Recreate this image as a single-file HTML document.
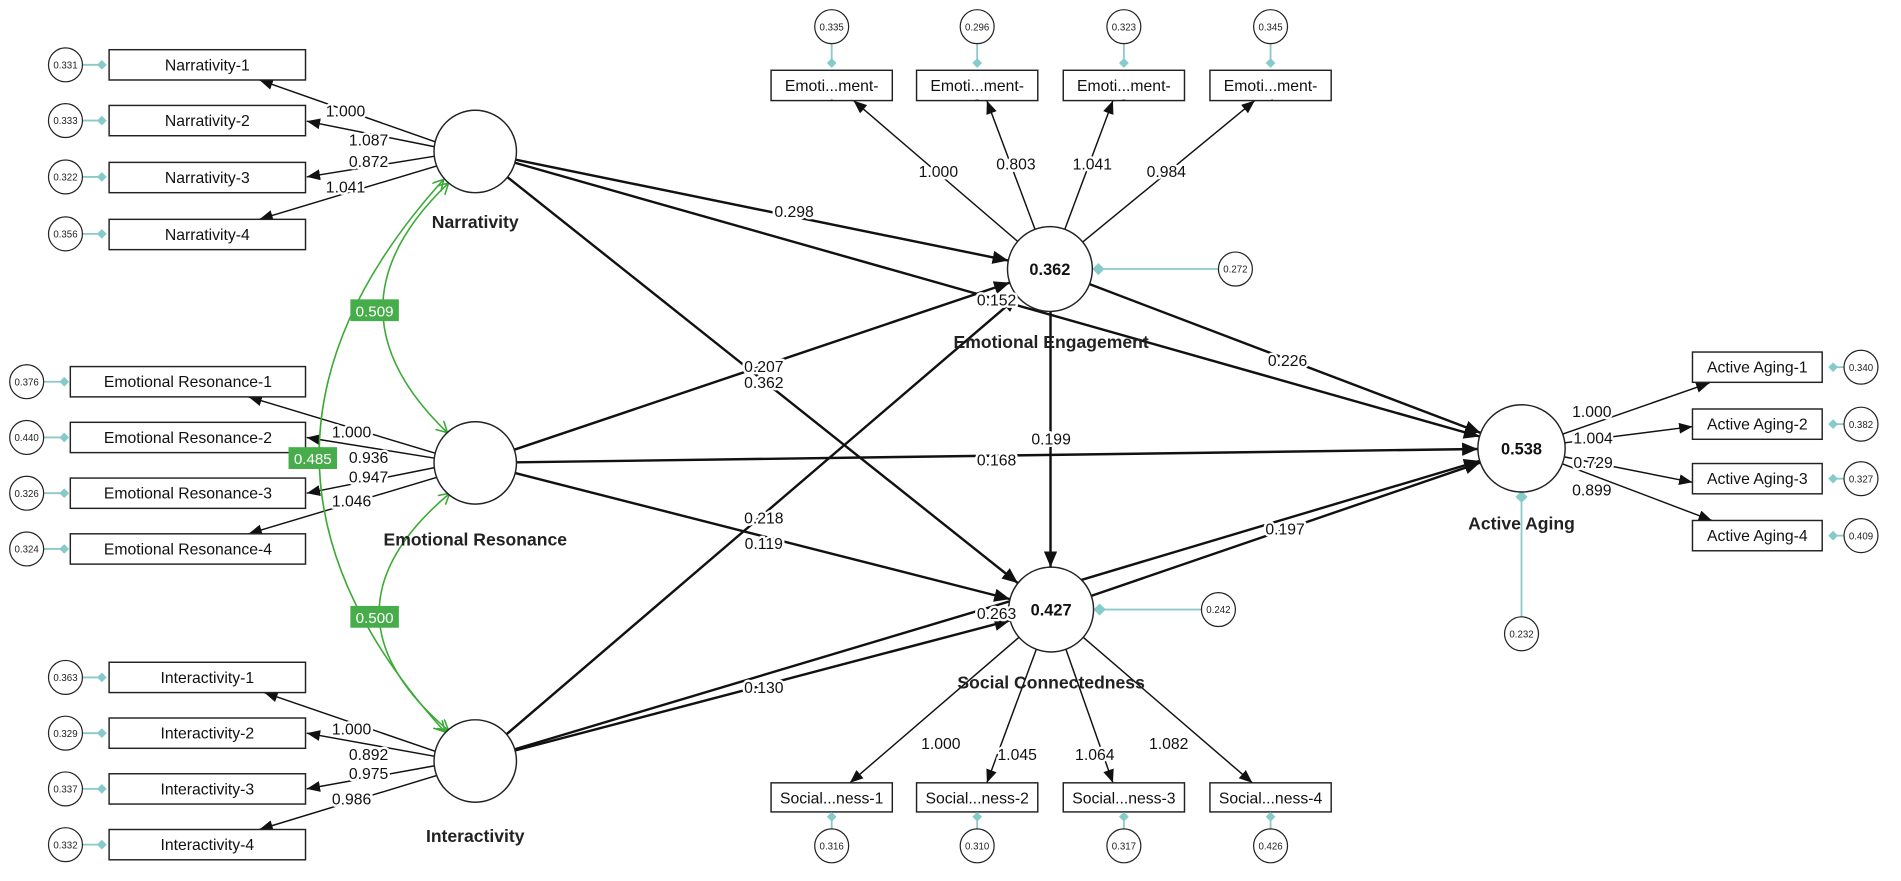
<!DOCTYPE html>
<html><head><meta charset="utf-8"><style>
html,body{margin:0;padding:0;background:#fff;}
svg{display:block;}
text{font-family:"Liberation Sans",sans-serif;}
.b{fill:#fff;stroke:#222;stroke-width:1.2;}
.bt{font-size:13px;text-anchor:middle;fill:#111;}
.lt{font-size:14.5px;font-weight:bold;text-anchor:middle;fill:#222;}
.n{font-size:13px;text-anchor:middle;fill:#111;stroke:#fff;stroke-width:4px;paint-order:stroke;stroke-linejoin:round;}
.e{fill:#fff;stroke:#222;stroke-width:1;}
.et{font-size:8px;text-anchor:middle;fill:#222;}
.t{stroke:#8cc9c9;stroke-width:1.5;fill:none;}
.d{fill:#86caca;}
.th{stroke:#111;stroke-width:2;fill:none;marker-end:url(#ah);}
.tn{stroke:#111;stroke-width:1.2;fill:none;marker-end:url(#as);}
.g{stroke:#3aaa35;stroke-width:1.3;fill:none;marker-start:url(#ga);marker-end:url(#ga);}
.gb{fill:#47ad4a;}
.gt{font-size:12.5px;text-anchor:middle;fill:#fff;}
.c{fill:#fff;stroke:#222;stroke-width:1.2;}
.ct{font-size:13.5px;font-weight:bold;text-anchor:middle;fill:#111;}
</style></head><body>
<svg width="1901" height="881" viewBox="0 0 1568 727" preserveAspectRatio="none" xmlns="http://www.w3.org/2000/svg">
<defs>
<marker id="ah" markerUnits="userSpaceOnUse" markerWidth="14" markerHeight="12" refX="13" refY="5.5" orient="auto"><path d="M0,0 L13,5.5 L0,11 z" fill="#111"/></marker>
<marker id="as" markerUnits="userSpaceOnUse" markerWidth="12" markerHeight="10" refX="11" refY="4.5" orient="auto"><path d="M0,0 L11,4.5 L0,9 z" fill="#111"/></marker>
<marker id="ga" markerUnits="userSpaceOnUse" markerWidth="12" markerHeight="12" refX="9" refY="5" orient="auto-start-reverse"><path d="M0,0 L9,5 L0,10" fill="none" stroke="#3aaa35" stroke-width="1.3"/></marker>
<clipPath id="c1"><rect x="636" y="58" width="100" height="25"/></clipPath>
<clipPath id="c2"><rect x="756" y="58" width="100" height="25"/></clipPath>
<clipPath id="c3"><rect x="877" y="58" width="100" height="25"/></clipPath>
<clipPath id="c4"><rect x="998" y="58" width="100" height="25"/></clipPath>
</defs>

<!-- structural paths -->
<line class="th" x1="425.3" y1="131.8" x2="831.7" y2="215"/>
<line class="th" x1="424.7" y1="134.3" x2="1220.4" y2="360.2"/>
<line class="th" x1="418.6" y1="146.2" x2="839.6" y2="481.2"/>
<line class="th" x1="424.2" y1="371.1" x2="832.9" y2="233.2"/>
<line class="th" x1="426" y1="381.5" x2="1219" y2="370.5"/>
<line class="th" x1="425" y1="390.4" x2="833.1" y2="494.4"/>
<line class="th" x1="417.8" y1="605.9" x2="839.4" y2="244.8"/>
<line class="th" x1="424.9" y1="619.3" x2="833.2" y2="511.9"/>
<line class="th" x1="424.6" y1="618.3" x2="1220.5" y2="380.3"/>
<line class="th" x1="898.7" y1="234.5" x2="1221.3" y2="357.2"/>
<line class="th" x1="866.5" y1="257" x2="866.5" y2="468"/>
<line class="th" x1="900.1" y1="491.7" x2="1221" y2="381.7"/>

<!-- loadings -->
<line class="tn" x1="359" y1="117" x2="214" y2="66"/>
<line class="tn" x1="358" y1="121" x2="253" y2="100"/>
<line class="tn" x1="358" y1="129" x2="253" y2="146"/>
<line class="tn" x1="360" y1="137" x2="214" y2="181"/>
<line class="tn" x1="359" y1="374" x2="205" y2="327.5"/>
<line class="tn" x1="358" y1="378" x2="253" y2="361"/>
<line class="tn" x1="358" y1="386" x2="253" y2="407"/>
<line class="tn" x1="360" y1="394" x2="205" y2="440.5"/>
<line class="tn" x1="359" y1="620" x2="218" y2="571.5"/>
<line class="tn" x1="358" y1="624" x2="253" y2="605"/>
<line class="tn" x1="358" y1="632" x2="253" y2="651"/>
<line class="tn" x1="360" y1="640" x2="214" y2="684.5"/>
<line class="tn" x1="839.4" y1="199.2" x2="704" y2="83"/>
<line class="tn" x1="853.7" y1="189.2" x2="814" y2="83"/>
<line class="tn" x1="878.3" y1="189.2" x2="918" y2="83"/>
<line class="tn" x1="893" y1="199.8" x2="1035" y2="83"/>
<line class="tn" x1="840.5" y1="525.9" x2="701" y2="646"/>
<line class="tn" x1="854.8" y1="535.8" x2="814" y2="646"/>
<line class="tn" x1="879.2" y1="535.8" x2="918" y2="646"/>
<line class="tn" x1="893.5" y1="525.9" x2="1033" y2="646"/>
<line class="tn" x1="1289" y1="358.2" x2="1410" y2="316"/>
<line class="tn" x1="1290.7" y1="365.4" x2="1396" y2="352"/>
<line class="tn" x1="1290.3" y1="377" x2="1396" y2="398"/>
<line class="tn" x1="1288.7" y1="382.7" x2="1412" y2="429.5"/>

<!-- green covariances -->
<path class="g" d="M370,151 Q262,254 369,357"/>
<path class="g" d="M366,148 Q160,376 367,604"/>
<path class="g" d="M371,407 Q255,505 370,603"/>

<!-- left indicator boxes & error terms -->
<g>
<line class="t" x1="68" y1="53.5" x2="86" y2="53.5"/><circle class="e" cx="54" cy="53.5" r="14"/><text class="et" x="54" y="56.5">0.331</text><path class="d" d="M84,49.5 L88,53.5 L84,57.5 L80,53.5z"/>
<rect class="b" x="90" y="41" width="162" height="25"/><text class="bt" x="171" y="58">Narrativity-1</text>
<line class="t" x1="68" y1="99.5" x2="86" y2="99.5"/><circle class="e" cx="54" cy="99.5" r="14"/><text class="et" x="54" y="102.5">0.333</text><path class="d" d="M84,95.5 L88,99.5 L84,103.5 L80,99.5z"/>
<rect class="b" x="90" y="87" width="162" height="25"/><text class="bt" x="171" y="104">Narrativity-2</text>
<line class="t" x1="68" y1="146" x2="86" y2="146"/><circle class="e" cx="54" cy="146" r="14"/><text class="et" x="54" y="149">0.322</text><path class="d" d="M84,142 L88,146 L84,150 L80,146z"/>
<rect class="b" x="90" y="134" width="162" height="25"/><text class="bt" x="171" y="151">Narrativity-3</text>
<line class="t" x1="68" y1="193" x2="86" y2="193"/><circle class="e" cx="54" cy="193" r="14"/><text class="et" x="54" y="196">0.356</text><path class="d" d="M84,189 L88,193 L84,197 L80,193z"/>
<rect class="b" x="90" y="181" width="162" height="25"/><text class="bt" x="171" y="198">Narrativity-4</text>

<line class="t" x1="36" y1="315" x2="54" y2="315"/><circle class="e" cx="22" cy="315" r="14"/><text class="et" x="22" y="318">0.376</text><path class="d" d="M53,311 L57,315 L53,319 L49,315z"/>
<rect class="b" x="58" y="302.5" width="194" height="25"/><text class="bt" x="155" y="319.5">Emotional Resonance-1</text>
<line class="t" x1="36" y1="361" x2="54" y2="361"/><circle class="e" cx="22" cy="361" r="14"/><text class="et" x="22" y="364">0.440</text><path class="d" d="M53,357 L57,361 L53,365 L49,361z"/>
<rect class="b" x="58" y="348.5" width="194" height="25"/><text class="bt" x="155" y="365.5">Emotional Resonance-2</text>
<line class="t" x1="36" y1="407" x2="54" y2="407"/><circle class="e" cx="22" cy="407" r="14"/><text class="et" x="22" y="410">0.326</text><path class="d" d="M53,403 L57,407 L53,411 L49,407z"/>
<rect class="b" x="58" y="394.5" width="194" height="25"/><text class="bt" x="155" y="411.5">Emotional Resonance-3</text>
<line class="t" x1="36" y1="453" x2="54" y2="453"/><circle class="e" cx="22" cy="453" r="14"/><text class="et" x="22" y="456">0.324</text><path class="d" d="M53,449 L57,453 L53,457 L49,453z"/>
<rect class="b" x="58" y="440.5" width="194" height="25"/><text class="bt" x="155" y="457.5">Emotional Resonance-4</text>

<line class="t" x1="68" y1="559" x2="86" y2="559"/><circle class="e" cx="54" cy="559" r="14"/><text class="et" x="54" y="562">0.363</text><path class="d" d="M84,555 L88,559 L84,563 L80,559z"/>
<rect class="b" x="90" y="546.5" width="162" height="25"/><text class="bt" x="171" y="563.5">Interactivity-1</text>
<line class="t" x1="68" y1="605" x2="86" y2="605"/><circle class="e" cx="54" cy="605" r="14"/><text class="et" x="54" y="608">0.329</text><path class="d" d="M84,601 L88,605 L84,609 L80,605z"/>
<rect class="b" x="90" y="592.5" width="162" height="25"/><text class="bt" x="171" y="609.5">Interactivity-2</text>
<line class="t" x1="68" y1="651" x2="86" y2="651"/><circle class="e" cx="54" cy="651" r="14"/><text class="et" x="54" y="654">0.337</text><path class="d" d="M84,647 L88,651 L84,655 L80,651z"/>
<rect class="b" x="90" y="638.5" width="162" height="25"/><text class="bt" x="171" y="655.5">Interactivity-3</text>
<line class="t" x1="68" y1="697" x2="86" y2="697"/><circle class="e" cx="54" cy="697" r="14"/><text class="et" x="54" y="700">0.332</text><path class="d" d="M84,693 L88,697 L84,701 L80,697z"/>
<rect class="b" x="90" y="684.5" width="162" height="25"/><text class="bt" x="171" y="701.5">Interactivity-4</text>
</g>

<!-- EE indicators -->
<g>
<line class="t" x1="686" y1="36" x2="686" y2="53"/><circle class="e" cx="686" cy="22" r="14"/><text class="et" x="686" y="25">0.335</text><path class="d" d="M686,48 L690,52 L686,56 L682,52z"/>
<rect class="b" x="636" y="58" width="100" height="25"/><text class="bt" x="686" y="75">Emoti...ment-</text><text class="bt" x="686" y="91" clip-path="url(#c1)">1</text>
<line class="t" x1="806" y1="36" x2="806" y2="53"/><circle class="e" cx="806" cy="22" r="14"/><text class="et" x="806" y="25">0.296</text><path class="d" d="M806,48 L810,52 L806,56 L802,52z"/>
<rect class="b" x="756" y="58" width="100" height="25"/><text class="bt" x="806" y="75">Emoti...ment-</text><text class="bt" x="806" y="91" clip-path="url(#c2)">2</text>
<line class="t" x1="927" y1="36" x2="927" y2="53"/><circle class="e" cx="927" cy="22" r="14"/><text class="et" x="927" y="25">0.323</text><path class="d" d="M927,48 L931,52 L927,56 L923,52z"/>
<rect class="b" x="877" y="58" width="100" height="25"/><text class="bt" x="927" y="75">Emoti...ment-</text><text class="bt" x="927" y="91" clip-path="url(#c3)">3</text>
<line class="t" x1="1048" y1="36" x2="1048" y2="53"/><circle class="e" cx="1048" cy="22" r="14"/><text class="et" x="1048" y="25">0.345</text><path class="d" d="M1048,48 L1052,52 L1048,56 L1044,52z"/>
<rect class="b" x="998" y="58" width="100" height="25"/><text class="bt" x="1048" y="75">Emoti...ment-</text><text class="bt" x="1048" y="91" clip-path="url(#c4)">4</text>
</g>

<!-- SC indicators -->
<g>
<rect class="b" x="636" y="646" width="100" height="24"/><text class="bt" x="686" y="663">Social...ness-1</text>
<line class="t" x1="686" y1="674" x2="686" y2="684"/><path class="d" d="M686,670 L690,674 L686,678 L682,674z"/><circle class="e" cx="686" cy="698" r="14"/><text class="et" x="686" y="701">0.316</text>
<rect class="b" x="756" y="646" width="100" height="24"/><text class="bt" x="806" y="663">Social...ness-2</text>
<line class="t" x1="806" y1="674" x2="806" y2="684"/><path class="d" d="M806,670 L810,674 L806,678 L802,674z"/><circle class="e" cx="806" cy="698" r="14"/><text class="et" x="806" y="701">0.310</text>
<rect class="b" x="877" y="646" width="100" height="24"/><text class="bt" x="927" y="663">Social...ness-3</text>
<line class="t" x1="927" y1="674" x2="927" y2="684"/><path class="d" d="M927,670 L931,674 L927,678 L923,674z"/><circle class="e" cx="927" cy="698" r="14"/><text class="et" x="927" y="701">0.317</text>
<rect class="b" x="998" y="646" width="100" height="24"/><text class="bt" x="1048" y="663">Social...ness-4</text>
<line class="t" x1="1048" y1="674" x2="1048" y2="684"/><path class="d" d="M1048,670 L1052,674 L1048,678 L1044,674z"/><circle class="e" cx="1048" cy="698" r="14"/><text class="et" x="1048" y="701">0.426</text>
</g>

<!-- AA indicators -->
<g>
<rect class="b" x="1396" y="290.5" width="107" height="25"/><text class="bt" x="1449.5" y="307.5">Active Aging-1</text>
<line class="t" x1="1514" y1="303" x2="1521" y2="303"/><path class="d" d="M1512,299 L1516,303 L1512,307 L1508,303z"/><circle class="e" cx="1535" cy="303" r="14"/><text class="et" x="1535" y="306">0.340</text>
<rect class="b" x="1396" y="337.5" width="107" height="25"/><text class="bt" x="1449.5" y="354.5">Active Aging-2</text>
<line class="t" x1="1514" y1="350" x2="1521" y2="350"/><path class="d" d="M1512,346 L1516,350 L1512,354 L1508,350z"/><circle class="e" cx="1535" cy="350" r="14"/><text class="et" x="1535" y="353">0.382</text>
<rect class="b" x="1396" y="382.5" width="107" height="25"/><text class="bt" x="1449.5" y="399.5">Active Aging-3</text>
<line class="t" x1="1514" y1="395" x2="1521" y2="395"/><path class="d" d="M1512,391 L1516,395 L1512,399 L1508,395z"/><circle class="e" cx="1535" cy="395" r="14"/><text class="et" x="1535" y="398">0.327</text>
<rect class="b" x="1396" y="429.5" width="107" height="25"/><text class="bt" x="1449.5" y="446.5">Active Aging-4</text>
<line class="t" x1="1514" y1="442" x2="1521" y2="442"/><path class="d" d="M1512,438 L1516,442 L1512,446 L1508,442z"/><circle class="e" cx="1535" cy="442" r="14"/><text class="et" x="1535" y="445">0.409</text>
</g>

<!-- structural error terms -->
<line class="t" x1="905" y1="222" x2="1005" y2="222"/><path class="d" d="M901,222 L906,217 L911,222 L906,227z"/><circle class="e" cx="1019" cy="222" r="14"/><text class="et" x="1019" y="225">0.272</text>
<line class="t" x1="906" y1="503" x2="991" y2="503"/><path class="d" d="M902,503 L907,498 L912,503 L907,508z"/><circle class="e" cx="1005" cy="503" r="14"/><text class="et" x="1005" y="506">0.242</text>
<line class="t" x1="1255" y1="410" x2="1255" y2="509"/><path class="d" d="M1255,405 L1260,410 L1255,415 L1250,410z"/><circle class="e" cx="1255" cy="523" r="14"/><text class="et" x="1255" y="526">0.232</text>

<!-- latent circles -->
<circle class="c" cx="392" cy="125" r="34"/>
<circle class="c" cx="392" cy="382" r="34"/>
<circle class="c" cx="392" cy="628" r="34"/>
<circle class="c" cx="866" cy="222" r="35"/><text class="ct" x="866" y="227">0.362</text>
<circle class="c" cx="867" cy="503" r="35"/><text class="ct" x="867" y="508">0.427</text>
<circle class="c" cx="1255" cy="370" r="36"/><text class="ct" x="1255" y="375">0.538</text>

<text class="lt" x="392" y="188">Narrativity</text>
<text class="lt" x="392" y="450">Emotional Resonance</text>
<text class="lt" x="392" y="695">Interactivity</text>
<text class="lt" x="867" y="287">Emotional Engagement</text>
<text class="lt" x="867" y="568">Social Connectedness</text>
<text class="lt" x="1255" y="437">Active Aging</text>

<!-- path labels -->
<text class="n" x="285" y="96">1.000</text>
<text class="n" x="304" y="120">1.087</text>
<text class="n" x="304" y="138">0.872</text>
<text class="n" x="285" y="159">1.041</text>
<text class="n" x="290" y="361">1.000</text>
<text class="n" x="304" y="382">0.936</text>
<text class="n" x="304" y="398">0.947</text>
<text class="n" x="290" y="418">1.046</text>
<text class="n" x="290" y="606">1.000</text>
<text class="n" x="304" y="627">0.892</text>
<text class="n" x="304" y="643">0.975</text>
<text class="n" x="290" y="664">0.986</text>

<text class="n" x="774" y="146">1.000</text>
<text class="n" x="838" y="140">0.803</text>
<text class="n" x="901" y="140">1.041</text>
<text class="n" x="962" y="146">0.984</text>

<text class="n" x="776" y="618">1.000</text>
<text class="n" x="839" y="627">1.045</text>
<text class="n" x="903" y="627">1.064</text>
<text class="n" x="964" y="618">1.082</text>

<text class="n" x="1313" y="344">1.000</text>
<text class="n" x="1314" y="366">1.004</text>
<text class="n" x="1314" y="386">0.729</text>
<text class="n" x="1313" y="409">0.899</text>

<text class="n" x="655" y="179">0.298</text>
<text class="n" x="822" y="252">0.152</text>
<text class="n" x="630" y="307">0.207</text>
<text class="n" x="630" y="320">0.362</text>
<text class="n" x="822" y="384">0.168</text>
<text class="n" x="630" y="453">0.119</text>
<text class="n" x="630" y="432">0.218</text>
<text class="n" x="630" y="572">0.130</text>
<text class="n" x="822" y="511">0.263</text>
<text class="n" x="1062" y="302">0.226</text>
<text class="n" x="867" y="367">0.199</text>
<text class="n" x="1060" y="441">0.197</text>

<!-- covariance labels -->
<rect class="gb" x="289" y="247" width="40" height="18"/><text class="gt" x="309" y="261">0.509</text>
<rect class="gb" x="238" y="369" width="40" height="18"/><text class="gt" x="258" y="383">0.485</text>
<rect class="gb" x="289" y="500" width="40" height="18"/><text class="gt" x="309" y="514">0.500</text>
</svg>
</body></html>
